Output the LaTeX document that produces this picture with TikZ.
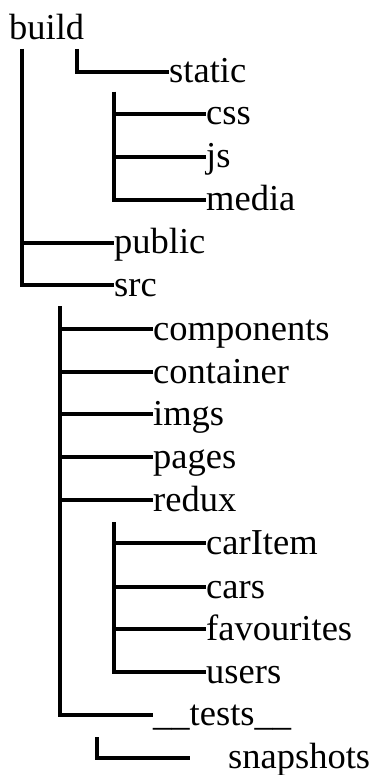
\documentclass[tikz,border=0pt]{standalone}
\usepackage{fontspec}
\setmainfont{Liberation Serif}
\begin{document}
\begin{tikzpicture}[x=1pt,y=-1pt,
  lbl/.style={anchor=base west,inner sep=0pt,font=\fontsize{36.5}{40}\selectfont},
  conn/.style={line width=3.2pt,line cap=butt,line join=miter}]
\useasboundingbox (0,0) rectangle (391,775);
% nodes (placed by baseline)
\node[lbl] (build) at (9,40) {build};
\node[lbl] (static) at (169,83) {static};
\node[lbl] (css) at (206,125) {css};
\node[lbl] (js) at (206,168) {js};
\node[lbl] (media) at (206,211) {media};
\node[lbl] (public) at (114,254) {public};
\node[lbl] (src) at (114,296) {src};
\node[lbl] (components) at (153,340) {components};
\node[lbl] (container) at (153,383) {container};
\node[lbl] (imgs) at (153,425) {imgs};
\node[lbl] (pages) at (153,468) {pages};
\node[lbl] (redux) at (153,511) {redux};
\node[lbl] (carItem) at (206,554) {carItem};
\node[lbl] (cars) at (206,598) {cars};
\node[lbl] (favourites) at (206,640) {favourites};
\node[lbl] (users) at (206,683) {users};
\node[lbl] (tests) at (153,725) {\_\_tests\_\_};
\node[lbl] (snapshots) at (228,768) {snapshots};
% trunk tops and connector ends
\coordinate (tBuild) at (22,49);
\coordinate (tStatic) at (77,49);
\coordinate (tStaticKids) at (114,92);
\coordinate (tSrc) at (60,306);
\coordinate (tRedux) at (114,522);
\coordinate (tTests) at (97,737);
\coordinate (eSnap) at (190,758);
% connectors
\draw[conn] (tStatic) |- ([yshift=11pt]static.base west);
\draw[conn] (tStaticKids) |- ([yshift=11pt]css.base west);
\draw[conn] (tStaticKids) |- ([yshift=11pt]js.base west);
\draw[conn] (tStaticKids) |- ([yshift=11pt]media.base west);
\draw[conn] (tBuild) |- ([yshift=11pt]public.base west);
\draw[conn] (tBuild) |- ([yshift=11pt]src.base west);
\draw[conn] (tSrc) |- ([yshift=11pt]components.base west);
\draw[conn] (tSrc) |- ([yshift=11pt]container.base west);
\draw[conn] (tSrc) |- ([yshift=11pt]imgs.base west);
\draw[conn] (tSrc) |- ([yshift=11pt]pages.base west);
\draw[conn] (tSrc) |- ([yshift=11pt]redux.base west);
\draw[conn] (tSrc) |- ([yshift=10pt]tests.base west);
\draw[conn] (tRedux) |- ([yshift=11pt]carItem.base west);
\draw[conn] (tRedux) |- ([yshift=11pt]cars.base west);
\draw[conn] (tRedux) |- ([yshift=11pt]favourites.base west);
\draw[conn] (tRedux) |- ([yshift=11pt]users.base west);
\draw[conn] (tTests) |- (eSnap);
\end{tikzpicture}
\end{document}
